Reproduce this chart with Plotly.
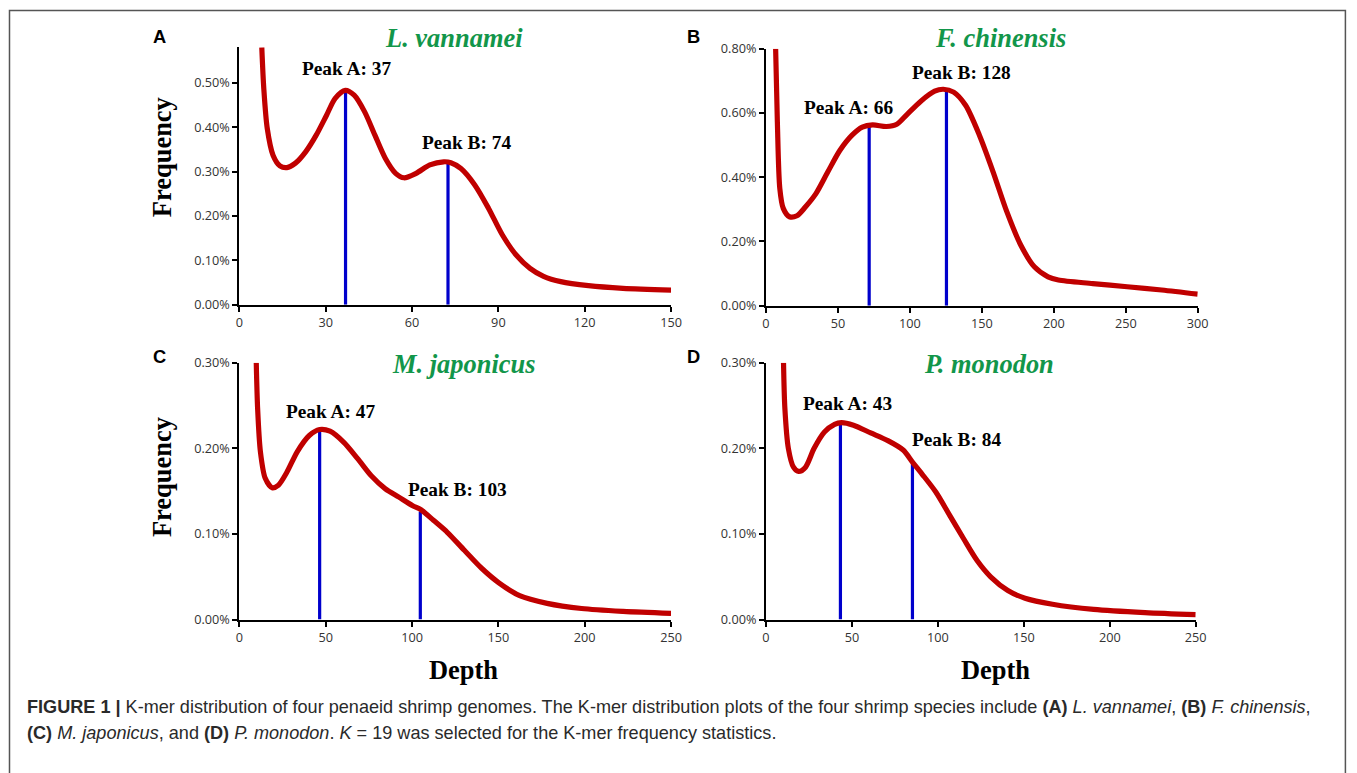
import plotly.graph_objects as go

W, H = 1357, 773

# ---------------- data ----------------
species = ["L. vannamei", "F. chinensis", "M. japonicus", "P. monodon"]
panel_letters = ["A", "B", "C", "D"]

depth_A = [7.8, 8.5, 9.7, 11.7, 14.1, 16.5, 19.5, 23.1, 26.7, 30.3, 33.3, 36.8, 39.9, 43.5, 47.1,
           50.7, 54.3, 57.2, 61.4, 66.2, 71.0, 73.5, 77.0, 81.8, 86.6, 91.4, 96.2, 101.0, 105.7,
           111.7, 121.3, 133.3, 150.0]
freq_A = [0.580, 0.487, 0.397, 0.337, 0.313, 0.309, 0.319, 0.345, 0.382, 0.427, 0.465, 0.483, 0.472,
          0.435, 0.382, 0.330, 0.296, 0.286, 0.296, 0.315, 0.322, 0.320, 0.307, 0.270, 0.217, 0.157,
          0.112, 0.082, 0.064, 0.052, 0.043, 0.037, 0.033]

depth_B = [6.7, 7.9, 9.6, 12.0, 16.3, 21.5, 27.5, 34.7, 43.0, 51.4, 59.8, 66.9, 74.1, 83.7, 90.9,
           98.1, 107.6, 117.2, 123.2, 130.4, 138.7, 148.3, 157.8, 167.4, 177.0, 186.5, 196.0, 203.2,
           227.1, 251.0, 275.0, 300.0]
freq_B = [0.800, 0.572, 0.365, 0.303, 0.277, 0.280, 0.308, 0.349, 0.417, 0.484, 0.531, 0.556, 0.563,
          0.558, 0.565, 0.596, 0.637, 0.668, 0.674, 0.665, 0.624, 0.531, 0.417, 0.292, 0.189, 0.121,
          0.090, 0.080, 0.069, 0.059, 0.049, 0.036]

depth_C = [9.8, 10.6, 12.2, 15.0, 19.0, 22.6, 27.5, 33.5, 40.5, 46.5, 52.5, 60.5, 68.5, 76.4, 84.4,
           92.4, 100.4, 105.4, 112.4, 120.4, 130.3, 140.3, 150.3, 162.3, 178.2, 198.2, 222.2, 250.0]
freq_C = [0.300, 0.246, 0.196, 0.165, 0.154, 0.157, 0.172, 0.196, 0.215, 0.222, 0.220, 0.207, 0.188,
          0.168, 0.153, 0.143, 0.133, 0.128, 0.116, 0.102, 0.081, 0.060, 0.043, 0.028, 0.019, 0.013,
          0.0097, 0.0074]

depth_D = [10.2, 11.0, 13.0, 16.0, 19.0, 23.0, 28.0, 34.0, 39.9, 43.9, 50.9, 60.9, 70.9, 79.8, 85.2,
           90.8, 98.8, 106.8, 114.8, 122.8, 130.7, 140.7, 150.7, 166.7, 190.6, 220.5, 250.0]
freq_D = [0.300, 0.246, 0.200, 0.178, 0.173, 0.178, 0.200, 0.219, 0.228, 0.230, 0.227, 0.218, 0.209,
          0.198, 0.184, 0.170, 0.149, 0.122, 0.095, 0.069, 0.050, 0.034, 0.025, 0.018, 0.012, 0.0082,
          0.0058]

peak_depth_A = [36.9, 72.5]
peak_freq_A = [0.483, 0.320]
peak_depth_B = [71.7, 125.4]
peak_freq_B = [0.559, 0.670]
peak_depth_C = [46.5, 104.8]
peak_freq_C = [0.223, 0.126]
peak_depth_D = [43.3, 85.2]
peak_freq_D = [0.230, 0.182]

peak_labels_A = ["Peak A: 37", "Peak B: 74"]
peak_labels_B = ["Peak A: 66", "Peak B: 128"]
peak_labels_C = ["Peak A: 47", "Peak B: 103"]
peak_labels_D = ["Peak A: 43", "Peak B: 84"]

x_ticks_A = [0, 30, 60, 90, 120, 150]
x_ticks_B = [0, 50, 100, 150, 200, 250, 300]
x_ticks_C = [0, 50, 100, 150, 200, 250]
x_ticks_D = [0, 50, 100, 150, 200, 250]
y_ticks_A = [0.0, 0.1, 0.2, 0.3, 0.4, 0.5]
y_ticks_B = [0.0, 0.2, 0.4, 0.6, 0.8]
y_ticks_C = [0.0, 0.1, 0.2, 0.3]
y_ticks_D = [0.0, 0.1, 0.2, 0.3]

caption_line1 = ("<b>FIGURE 1 |</b> K-mer distribution of four penaeid shrimp genomes. The K-mer distribution "
                 "plots of the four shrimp species include <b>(A)</b> <i>L. vannamei</i>, <b>(B)</b> <i>F. chinensis</i>,")
caption_line2 = ("<b>(C)</b> <i>M. japonicus</i>, and <b>(D)</b> <i>P. monodon</i>. <i>K</i> = 19 was selected "
                 "for the K-mer frequency statistics.")

# ---------------- layout geometry ----------------
# target positions are given in screen pixels; the capture maps page pixels to the
# screenshot with a slight scale/offset, which is compensated here.
SX, OX = 0.9896, 2.5
SY, OY = 0.977, 8.2
FS = 1.017

def px(x):
    return ((x - OX) / SX) / W

def py(y):
    return 1 - ((y - OY) / SY) / H

panels = [
    dict(depth=depth_A, freq=freq_A, pk_x=peak_depth_A, pk_y=peak_freq_A, pk_lab=peak_labels_A,
         xt=x_ticks_A, yt=y_ticks_A, xr=[0, 150], yr=[0, 0.58],
         xd=(238, 670), yd=(303, 45.5),
         title_pos=(453, 36), letter_pos=(158, 35),
         lab_pos=[(345, 67), (465, 141)], ytitle=155, xtitle=None),
    dict(depth=depth_B, freq=freq_B, pk_x=peak_depth_B, pk_y=peak_freq_B, pk_lab=peak_labels_B,
         xt=x_ticks_B, yt=y_ticks_B, xr=[0, 300], yr=[0, 0.8],
         xd=(765, 1197), yd=(304, 47),
         title_pos=(1000, 36), letter_pos=(692, 35),
         lab_pos=[(848, 106), (961, 71)], ytitle=None, xtitle=None),
    dict(depth=depth_C, freq=freq_C, pk_x=peak_depth_C, pk_y=peak_freq_C, pk_lab=peak_labels_C,
         xt=x_ticks_C, yt=y_ticks_C, xr=[0, 250], yr=[0, 0.3],
         xd=(238, 670), yd=(618, 361),
         title_pos=(463, 362), letter_pos=(158, 355),
         lab_pos=[(329, 410), (456, 488)], ytitle=475, xtitle=462),
    dict(depth=depth_D, freq=freq_D, pk_x=peak_depth_D, pk_y=peak_freq_D, pk_lab=peak_labels_D,
         xt=x_ticks_D, yt=y_ticks_D, xr=[0, 250], yr=[0, 0.3],
         xd=(765, 1195), yd=(618, 361),
         title_pos=(988, 362), letter_pos=(692, 355),
         lab_pos=[(847, 402), (956, 438)], ytitle=None, xtitle=995),
]

fig = go.Figure()
annotations = []
layout_axes = {}

SERIF = "Liberation Serif, Times New Roman, serif"
SANS = "Liberation Sans, Arial, sans-serif"
TICKFONT = dict(family="Open Sans, DejaVu Sans, sans-serif", size=12.7, color="#333333")

for i, p in enumerate(panels):
    n = "" if i == 0 else str(i + 1)
    xa, ya = "x" + n, "y" + n
    for k in range(2):
        fig.add_trace(go.Scatter(x=[p["pk_x"][k], p["pk_x"][k]], y=[0, p["pk_y"][k]],
                                 xaxis=xa, yaxis=ya, mode="lines",
                                 line=dict(color="#0000CC", width=3.2),
                                 showlegend=False, hoverinfo="skip"))
    fig.add_trace(go.Scatter(x=p["depth"], y=p["freq"], xaxis=xa, yaxis=ya, mode="lines",
                             line=dict(color="#C00000", width=5.2, shape="spline", smoothing=0.8),
                             showlegend=False))
    layout_axes["xaxis" + n] = dict(
        domain=[px(p["xd"][0]), px(p["xd"][1])], range=p["xr"], anchor=ya,
        tickmode="array", tickvals=p["xt"], ticktext=[str(v) for v in p["xt"]],
        ticks="outside", ticklen=5, tickwidth=2, tickcolor="black",
        showline=True, linecolor="black", linewidth=2, showgrid=False, zeroline=False,
        tickfont=TICKFONT, fixedrange=True)
    layout_axes["yaxis" + n] = dict(
        domain=[py(p["yd"][0]), py(p["yd"][1])], range=p["yr"], anchor=xa,
        tickmode="array", tickvals=p["yt"], ticktext=["%.2f%%" % v for v in p["yt"]],
        ticks="outside", ticklen=5,
        tickwidth=2, tickcolor="black", showline=True, linecolor="black", linewidth=2,
        showgrid=False, zeroline=False, tickfont=TICKFONT, fixedrange=True)
    annotations.append(dict(text="<b><i>%s</i></b>" % species[i], xref="paper", yref="paper",
                            x=px(p["title_pos"][0]), y=py(p["title_pos"][1]),
                            xanchor="center", yanchor="middle", showarrow=False,
                            font=dict(family=SERIF, size=26 * FS, color="#12964A")))
    annotations.append(dict(text="<b>%s</b>" % panel_letters[i], xref="paper", yref="paper",
                            x=px(p["letter_pos"][0]), y=py(p["letter_pos"][1]),
                            xanchor="center", yanchor="middle", showarrow=False,
                            font=dict(family=SANS, size=18 * FS, color="black")))
    for k in range(2):
        annotations.append(dict(text="<b>%s</b>" % p["pk_lab"][k], xref="paper", yref="paper",
                                x=px(p["lab_pos"][k][0]), y=py(p["lab_pos"][k][1]),
                                xanchor="center", yanchor="middle", showarrow=False,
                                font=dict(family=SERIF, size=19 * FS, color="black")))
    if p["ytitle"] is not None:
        annotations.append(dict(text="<b>Frequency</b>", xref="paper", yref="paper",
                                x=px(160), y=py(p["ytitle"]),
                                xanchor="center", yanchor="middle", showarrow=False, textangle=-90,
                                font=dict(family=SERIF, size=26 * FS, color="black")))
    if p["xtitle"] is not None:
        annotations.append(dict(text="<b>Depth</b>", xref="paper", yref="paper",
                                x=px(p["xtitle"]), y=py(668),
                                xanchor="center", yanchor="middle", showarrow=False,
                                font=dict(family=SERIF, size=26 * FS, color="black")))

CAPSIZE = 18.1
annotations.append(dict(text=caption_line1, xref="paper", yref="paper", x=px(24), y=py(705),
                        xanchor="left", yanchor="middle", showarrow=False,
                        font=dict(family=SANS, size=CAPSIZE, color="#2a2a2a")))
annotations.append(dict(text=caption_line2, xref="paper", yref="paper", x=px(24), y=py(731),
                        xanchor="left", yanchor="middle", showarrow=False,
                        font=dict(family=SANS, size=CAPSIZE, color="#2a2a2a")))

fig.update_layout(
    width=W, height=H, autosize=False, margin=dict(l=0, r=0, t=0, b=0),
    paper_bgcolor="white", plot_bgcolor="white",
    annotations=annotations,
    shapes=[dict(type="rect", xref="paper", yref="paper",
                 x0=px(8), x1=1 - 0.6 / W, y0=-0.05, y1=1 - 0.6 / H,
                 line=dict(color="#555555", width=1.5))],
    **layout_axes,
)

fig.write_html(
    "out.html",
    config={"displayModeBar": False, "responsive": False},
    post_script=("document.documentElement.style.margin='0';document.documentElement.style.padding='0';"
                 "document.documentElement.style.overflow='hidden';"
                 "document.body.style.margin='0';document.body.style.padding='0';"
                 "document.body.style.overflow='hidden';"),
)
